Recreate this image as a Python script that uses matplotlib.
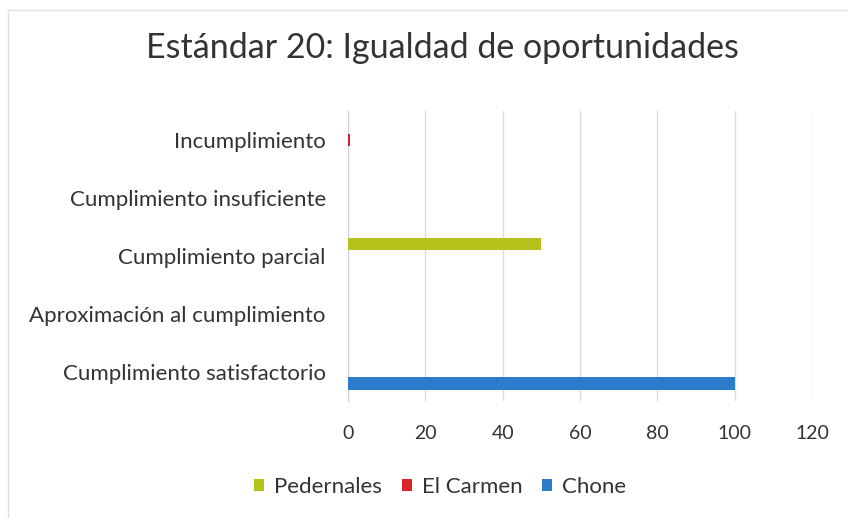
import matplotlib
matplotlib.use('Agg')
import matplotlib.pyplot as plt
import numpy as np
from matplotlib.patches import Patch

plt.rcParams['font.family'] = ['Lato', 'DejaVu Sans']

# Data
categories = ['Incumplimiento', 'Cumplimiento insuficiente', 'Cumplimiento parcial',
              'Aproximación al cumplimiento', 'Cumplimiento satisfactorio']
series_names = ['Pedernales', 'El Carmen', 'Chone']
pedernales = [0, 0, 50, 0, 0]
el_carmen = [0.6, 0, 0, 0, 0]
chone = [0, 0, 0, 0, 100]
x_ticks = [0, 20, 40, 60, 80, 100, 120]

colors = ['#b4c21a', '#d8242b', '#2b7dcc']
values = [pedernales, el_carmen, chone]

fig = plt.figure(figsize=(8.48, 5.18), dpi=100)
ax = fig.add_axes([0.4104, 0.2259, 0.5471, 0.5598])

y = np.arange(len(categories))
bar_h = 0.21
offsets = [-0.2, 0, 0.2]  # Pedernales on top, Chone at the bottom of each group
for vals, off, col, name in zip(values, offsets, colors, series_names):
    ax.barh(y + off, vals, height=bar_h, color=col, label=name, zorder=3)

ax.set_ylim(len(categories) - 0.5, -0.5)
ax.set_xlim(0, 120)
ax.set_xticks(x_ticks)
ax.set_yticks(y)
ax.set_yticklabels(categories, fontsize=16)
ax.tick_params(axis='both', length=0, colors='#333333')
ax.tick_params(axis='x', pad=17, labelsize=14)
ax.tick_params(axis='y', pad=16)
ax.grid(axis='x', color='#dddddd', linewidth=1, zorder=0)
for side in ['top', 'right', 'bottom']:
    ax.spines[side].set_visible(False)
ax.spines['left'].set_color('#d0d0d0')

fig.text(0.522, 0.907, 'Estándar 20: Igualdad de oportunidades', ha='center', va='center',
         fontsize=24.5, color='#333333')

handles = [Patch(facecolor=c, label=n) for c, n in zip(colors, series_names)]
fig.legend(handles=handles, loc='center', bbox_to_anchor=(0.519, 0.06), ncol=3, frameon=False,
           fontsize=16, handlelength=0.45, handleheight=0.45, handletextpad=0.45, columnspacing=0.9,
           labelcolor='#333333')

# faint chart border
fig.add_artist(plt.Line2D([0.009, 0.009], [0.0, 0.98], color='#e0e0e0', lw=1, transform=fig.transFigure))
fig.add_artist(plt.Line2D([0.009, 1.0], [0.98, 0.98], color='#e0e0e0', lw=1, transform=fig.transFigure))

plt.savefig('out.png', dpi=100)
